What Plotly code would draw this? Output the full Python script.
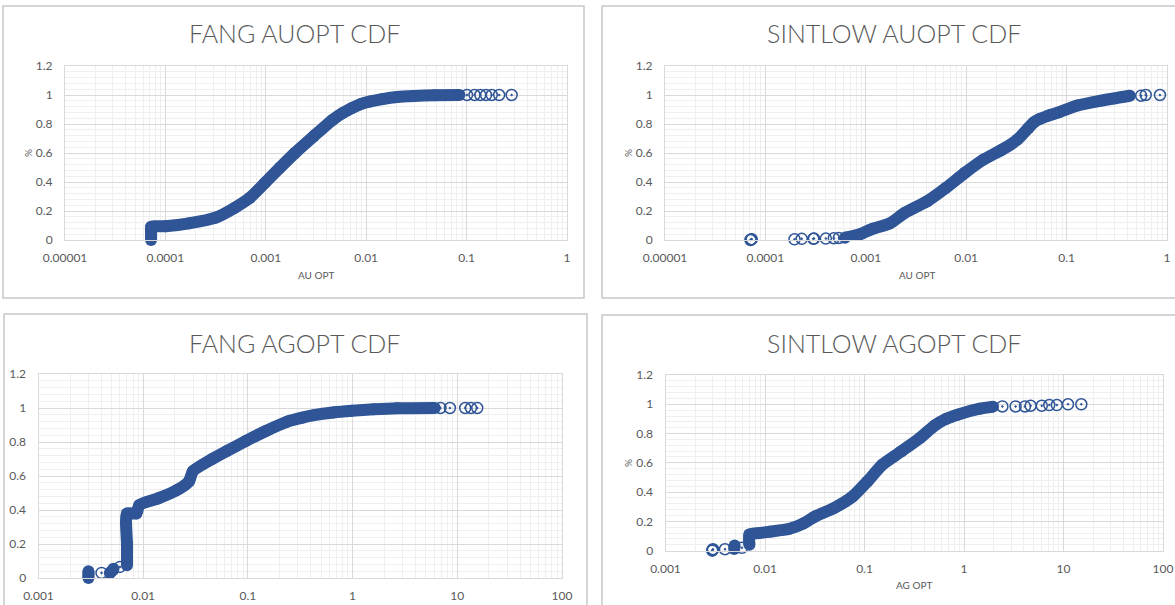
import plotly.graph_objects as go

# ---------------- DATA ----------------
# Panel 1: FANG AUOPT CDF  (dense body of the CDF, then sparse tail points)
fang_au_x = [7.2e-5, 7.2e-5, 7.2e-5, 7.2e-5, 1.0e-4, 1.72e-4, 3.16e-4, 4.9e-4, 6.9e-4, 9.8e-4,
             1.38e-3, 1.95e-3, 3.0e-3, 4.65e-3, 5.8e-3, 7.2e-3, 8.8e-3, 1.1e-2, 1.45e-2,
             2.03e-2, 3.0e-2, 4.8e-2, 8.5e-2]
fang_au_y = [0.0, 0.03, 0.06, 0.09, 0.095, 0.115, 0.154, 0.222, 0.29, 0.394,
             0.498, 0.60, 0.716, 0.83, 0.875, 0.91, 0.937, 0.956, 0.972,
             0.986, 0.993, 0.998, 1.0]
fang_au_tail_x = [0.101, 0.12, 0.137, 0.156, 0.178, 0.211, 0.281]
fang_au_tail_y = [1.0, 1.0, 1.0, 1.0, 1.0, 1.0, 1.0]

# Panel 2: SINTLOW AUOPT CDF
sint_au_x = [6.2e-4, 8.75e-4, 1.13e-3, 1.74e-3, 2.46e-3, 4.1e-3, 6.3e-3, 9.7e-3, 1.49e-2,
             2.29e-2, 3.24e-2, 4.17e-2, 4.7e-2, 5.4e-2, 6.6e-2, 8.3e-2, 0.128, 0.215, 0.36, 0.427]
sint_au_y = [0.016, 0.04, 0.073, 0.115, 0.188, 0.268, 0.36, 0.463, 0.555,
             0.624, 0.693, 0.773, 0.81, 0.835, 0.858, 0.88, 0.927, 0.96, 0.986, 0.995]
sint_au_tail_x = [7.1e-5, 7.2e-5, 7.3e-5, 1.95e-4, 2.3e-4, 3.0e-4, 3.05e-4, 4.0e-4, 4.8e-4, 5.4e-4,
                  0.553, 0.614, 0.851]
sint_au_tail_y = [0.0, 0.003, 0.006, 0.005, 0.008, 0.008, 0.01, 0.01, 0.012, 0.014,
                  0.995, 1.0, 1.0]

# Panel 3: FANG AGOPT CDF (None separates clusters)
fang_ag_x = [3.0e-3, 3.0e-3, 3.0e-3, None, 4.8e-3, 5.1e-3, 5.2e-3, None,
             7.0e-3, 7.0e-3, 7.0e-3, 8.6e-3, 9.2e-3, 1.41e-2, 2.14e-2, 2.74e-2, 2.98e-2,
             4.5e-2, 6.3e-2, 9.55e-2, 0.145, 0.239, 0.33, 0.427, 0.65, 0.98, 1.6, 2.66, 6.1]
fang_ag_y = [0.0, 0.02, 0.04, None, 0.03, 0.045, 0.055, None,
             0.075, 0.2, 0.38, 0.38, 0.43, 0.47, 0.52, 0.569, 0.628,
             0.698, 0.747, 0.806, 0.862, 0.92, 0.943, 0.958, 0.974, 0.984, 0.992, 0.998, 1.0]
fang_ag_tail_x = [4.0e-3, 6.0e-3, 6.9, 8.5, 11.9, 13.5, 15.5]
fang_ag_tail_y = [0.03, 0.065, 1.0, 1.0, 1.0, 1.0, 1.0]

# Panel 4: SINTLOW AGOPT CDF
sint_ag_x = [4.9e-3, 4.95e-3, None,
             6.97e-3, 6.97e-3, 8.65e-3, 1.12e-2, 1.73e-2, 2.45e-2, 3.17e-2, 4.9e-2, 7.6e-2,
             0.107, 0.151, 0.234, 0.361, 0.51, 0.66, 0.86, 1.44, 1.96]
sint_ag_y = [0.012, 0.035, None,
             0.04, 0.11, 0.12, 0.13, 0.148, 0.187, 0.233, 0.29, 0.37,
             0.473, 0.587, 0.678, 0.77, 0.856, 0.9, 0.929, 0.97, 0.984]
sint_ag_tail_x = [2.95e-3, 2.97e-3, 3.0e-3, 3.96e-3, 5.86e-3,
                  2.43, 3.3, 4.1, 4.67, 6.05, 7.2, 8.57, 11.1, 15.1]
sint_ag_tail_y = [0.0, 0.005, 0.01, 0.01, 0.02,
                  0.985, 0.985, 0.985, 0.99, 0.99, 0.995, 0.995, 1.0, 1.0]

# Axis labels
au_tickvals = [1e-5, 1e-4, 1e-3, 1e-2, 1e-1, 1]
au_ticktext = ["0.00001", "0.0001", "0.001", "0.01", "0.1", "1"]
ag_tickvals = [1e-3, 1e-2, 1e-1, 1, 10, 100]
ag_ticktext = ["0.001", "0.01", "0.1", "1", "10", "100"]

titles = ["FANG AUOPT CDF", "SINTLOW AUOPT CDF", "FANG AGOPT CDF", "SINTLOW AGOPT CDF"]

# ---------------- LAYOUT ----------------
W, H = 1175, 605
def px(x):
    return x / W
def py(y):
    return 1 - y / H

BLUE = "#2F5597"
GRID = "#d9d9d9"
MINOR = "#efefef"
TXT = "#595959"
FONT = "Lato"

panels = [
    dict(data=(fang_au_x, fang_au_y, fang_au_tail_x, fang_au_tail_y), xr=[-5, 0],
         tv=au_tickvals, tt=au_ticktext, xd=[65, 567], yd=[240, 66],
         title=(294, 33), xtitle=("AU OPT", 316, 275), pct=(28, 153),
         box=(3, 6, 584, 298)),
    dict(data=(sint_au_x, sint_au_y, sint_au_tail_x, sint_au_tail_y), xr=[-5, 0],
         tv=au_tickvals, tt=au_ticktext, xd=[665, 1167], yd=[240, 66],
         title=(894, 33), xtitle=("AU OPT", 917, 275), pct=(628, 153),
         box=(602, 6, 1190, 298)),
    dict(data=(fang_ag_x, fang_ag_y, fang_ag_tail_x, fang_ag_tail_y), xr=[-3, 2],
         tv=ag_tickvals, tt=ag_ticktext, xd=[38.5, 562], yd=[578, 374],
         title=(295, 343), xtitle=None, pct=None,
         box=(4, 314, 587, 620)),
    dict(data=(sint_ag_x, sint_ag_y, sint_ag_tail_x, sint_ag_tail_y), xr=[-3, 2],
         tv=ag_tickvals, tt=ag_ticktext, xd=[665.5, 1163], yd=[550.7, 375],
         title=(894, 343), xtitle=("AG OPT", 914, 585), pct=(628, 463),
         box=(602, 315, 1190, 620)),
]

fig = go.Figure()
annotations = []
shapes = []
layout_axes = {}

for i, p in enumerate(panels):
    n = "" if i == 0 else str(i + 1)
    bx, by, tx, ty = p["data"]
    fig.add_trace(go.Scatter(
        x=bx, y=by, mode="lines+markers", xaxis="x" + n, yaxis="y" + n,
        line=dict(color=BLUE, width=12, shape="spline", smoothing=0.6), connectgaps=False,
        marker=dict(symbol="circle", size=12, color=BLUE),
        cliponaxis=False, showlegend=False, hoverinfo="x+y"))
    fig.add_trace(go.Scatter(
        x=tx, y=ty, mode="markers", xaxis="x" + n, yaxis="y" + n,
        marker=dict(symbol="circle-open-dot", size=11, color=BLUE,
                    line=dict(color=BLUE, width=1.5)),
        cliponaxis=False, showlegend=False, hoverinfo="x+y"))

    layout_axes["xaxis" + n] = dict(
        type="log", range=p["xr"], domain=[px(p["xd"][0]), px(p["xd"][1])],
        anchor="y" + n, tickmode="array", tickvals=p["tv"], ticktext=p["tt"],
        automargin=False,
        showgrid=True, gridcolor=GRID, gridwidth=1, zeroline=False,
        showline=True, linecolor=GRID, mirror=True, ticks="",
        ticklabelstandoff=7,
        tickfont=dict(family=FONT, size=12, color=TXT),
        minor=dict(dtick="D1", showgrid=True, gridcolor=MINOR, gridwidth=1, ticks=""))
    layout_axes["yaxis" + n] = dict(
        range=[0, 1.2], domain=[py(p["yd"][0]), py(p["yd"][1])],
        anchor="x" + n, dtick=0.2, tick0=0, automargin=False,
        showgrid=True, gridcolor=GRID, gridwidth=1, zeroline=False,
        showline=True, linecolor=GRID, mirror=True, ticks="",
        ticklabelstandoff=9,
        tickfont=dict(family=FONT, size=12, color=TXT),
        minor=dict(dtick=0.04, showgrid=True, gridcolor=MINOR, gridwidth=1, ticks=""))

    tx_, ty_ = p["title"]
    annotations.append(dict(text=titles[i], x=px(tx_), y=py(ty_), xref="paper", yref="paper",
                            showarrow=False, xanchor="center", yanchor="middle",
                            font=dict(family=FONT, size=25, color=TXT, weight=300)))
    if p["xtitle"]:
        t, ax_, ay_ = p["xtitle"]
        annotations.append(dict(text=t, x=px(ax_), y=py(ay_), xref="paper", yref="paper",
                                showarrow=False, xanchor="center", yanchor="middle",
                                font=dict(family=FONT, size=10, color=TXT)))
    if p["pct"]:
        ax_, ay_ = p["pct"]
        annotations.append(dict(text="%", x=px(ax_), y=py(ay_), xref="paper", yref="paper",
                                showarrow=False, xanchor="center", yanchor="middle", textangle=-90,
                                font=dict(family=FONT, size=10, color=TXT)))
    x0, y0, x1, y1 = p["box"]
    shapes.append(dict(type="rect", xref="paper", yref="paper",
                       x0=px(x0), x1=px(x1), y0=py(y1), y1=py(y0),
                       line=dict(color="#c8c8c8", width=1.5), fillcolor="rgba(0,0,0,0)",
                       layer="below"))

fig.update_layout(
    width=W, height=H, margin=dict(l=0, r=0, t=0, b=0, autoexpand=False),
    paper_bgcolor="white", plot_bgcolor="white",
    annotations=annotations, shapes=shapes, showlegend=False,
    **layout_axes)

fig.write_html(
    "out.html",
    config={"displayModeBar": False},
    post_script="document.body.style.margin='0';document.body.style.overflow='hidden';")
